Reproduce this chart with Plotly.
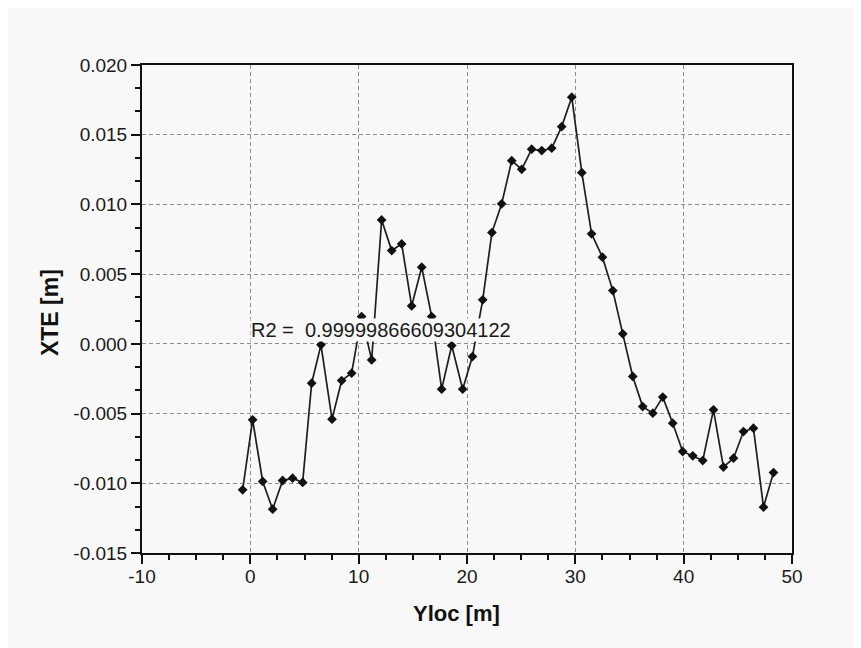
import plotly.graph_objects as go

# ---- data ----
yloc = [-0.71, 0.21, 1.14, 2.06, 2.98, 3.90, 4.83, 5.66, 6.52, 7.54, 8.43, 9.35,
        10.27, 11.20, 12.12, 13.05, 13.97, 14.89, 15.82, 16.74, 17.66, 18.59, 19.60,
        20.50, 21.45, 22.30, 23.20, 24.13, 25.05, 25.97, 26.90, 27.82, 28.74, 29.67,
        30.60, 31.50, 32.50, 33.46, 34.38, 35.30, 36.22, 37.15, 38.07, 38.99, 39.91,
        40.84, 41.76, 42.75, 43.67, 44.60, 45.52, 46.44, 47.37, 48.29]
xte = [-0.01047, -0.00545, -0.00987, -0.01186, -0.00980, -0.00963, -0.00994, -0.00282,
       -0.00007, -0.00540, -0.00263, -0.00210, 0.00196, -0.00115, 0.00889, 0.00669,
       0.00717, 0.00272, 0.00550, 0.00196, -0.00325, -0.00012, -0.00325, -0.00091,
       0.00316, 0.00798, 0.01004, 0.01314, 0.01252, 0.01396, 0.01386, 0.01403,
       0.01558, 0.01769, 0.01228, 0.00789, 0.00622, 0.00382, 0.00072, -0.00234,
       -0.00450, -0.00497, -0.00382, -0.00569, -0.00772, -0.00803, -0.00837,
       -0.00473, -0.00884, -0.00820, -0.00629, -0.00605, -0.01171, -0.00923]

x_tickvals = [-10, 0, 10, 20, 30, 40, 50]
x_ticktext = ["-10", "0", "10", "20", "30", "40", "50"]
y_tickvals = [-0.015, -0.010, -0.005, 0.0, 0.005, 0.010, 0.015, 0.020]
y_ticktext = ["-0.015", "-0.010", "-0.005", "0.000", "0.005", "0.010", "0.015", "0.020"]

x_title = "Yloc [m]"
y_title = "XTE [m]"
r2_text = "R2 =  0.99999866609304122"
r2_pos = (0.0, 0.00098)

BG = "#f8f8f8"
FONT = "Liberation Sans, Arial, sans-serif"

fig = go.Figure()
fig.add_trace(go.Scatter(
    x=yloc, y=xte, mode="lines+markers",
    line=dict(color="#1e1e1e", width=1.7),
    marker=dict(symbol="diamond", size=7.5, color="#111111"),
    showlegend=False,
))

axis_common = dict(
    showline=True, linecolor="#111111", linewidth=2, mirror=True,
    ticks="outside", ticklen=9, tickwidth=2, tickcolor="#111111",
    showgrid=True, gridcolor="#8e8e8e", gridwidth=1.2, griddash="4px,3px",
    zeroline=False,
    tickfont=dict(family=FONT, size=19, color="#1a1a1a"),
)

fig.update_xaxes(
    range=[-10, 50], tickmode="array", tickvals=x_tickvals, ticktext=x_ticktext,
    ticklabelstandoff=-4,
    minor=dict(dtick=2.5, ticks="outside", ticklen=5, tickwidth=2,
               tickcolor="#111111", showgrid=False),
    **axis_common,
)
fig.update_yaxes(
    range=[-0.015, 0.020], tickmode="array", tickvals=y_tickvals, ticktext=y_ticktext,
    minor=dict(dtick=0.005 / 3, tick0=-0.015, ticks="outside", ticklen=5, tickwidth=2,
               tickcolor="#111111", showgrid=False),
    **axis_common,
)

fig.add_annotation(
    x=r2_pos[0], y=r2_pos[1], xref="x", yref="y", text=r2_text,
    xanchor="left", yanchor="middle", showarrow=False,
    font=dict(family=FONT, size=20, color="#1a1a1a"),
    bgcolor=BG, borderpad=0,
)
fig.add_annotation(
    x=0.4846, y=-0.123, xref="paper", yref="paper", text="<b>%s</b>" % x_title,
    showarrow=False, xanchor="center", yanchor="middle",
    font=dict(family=FONT, size=22, color="#111111"),
)
fig.add_annotation(
    x=-0.1415, y=0.4918, xref="paper", yref="paper", text="<b>%s</b>" % y_title,
    showarrow=False, xanchor="center", yanchor="middle", textangle=-90,
    font=dict(family=FONT, size=23, color="#111111"),
)

fig.update_layout(
    width=861, height=648,
    margin=dict(l=134, r=77, t=57, b=103),
    paper_bgcolor=BG, plot_bgcolor=BG,
    font=dict(family=FONT),
)

fig.write_html("out.html")
